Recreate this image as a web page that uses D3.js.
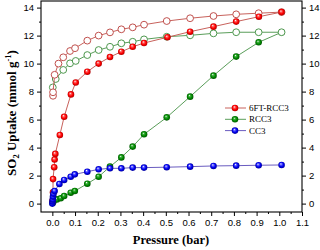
<!DOCTYPE html>
<html>
<head>
<meta charset="utf-8">
<script src="https://cdn.jsdelivr.net/npm/d3@7"></script>
<style>
  html, body { margin: 0; padding: 0; background: #fff; }
  svg { display: block; }
</style>
</head>
<body>
<div id="chart"></div>
<script>
// 6FT-RCC3 adsorption (filled) / desorption (open)
const ftAdsP = [0.001, 0.003, 0.003, 0.008, 0.01, 0.013, 0.033, 0.052, 0.082, 0.103, 0.154, 0.204, 0.254, 0.304, 0.354, 0.404, 0.507, 0.607, 0.71, 0.81, 0.91, 1.01];
const ftAdsU = [0.2, 0.8, 1.75, 2.6, 3.15, 3.55, 4.9, 6.2, 7.8, 8.65, 9.42, 10.0, 10.47, 10.85, 11.2, 11.47, 11.88, 12.28, 12.64, 13.0, 13.35, 13.68];
const ftDesP = [0.003, 0.003, 0.01, 0.027, 0.048, 0.078, 0.1, 0.154, 0.204, 0.254, 0.304, 0.354, 0.404, 0.504, 0.607, 0.71, 0.81, 0.909, 1.01];
const ftDesU = [7.7, 7.95, 9.2, 10.0, 10.45, 10.9, 11.1, 11.64, 12.0, 12.23, 12.45, 12.59, 12.78, 13.04, 13.24, 13.4, 13.52, 13.6, 13.68];

// RCC3
const rccAdsP = [0.001, 0.005, 0.02, 0.037, 0.052, 0.081, 0.099, 0.154, 0.204, 0.254, 0.304, 0.354, 0.404, 0.504, 0.607, 0.71, 0.81, 0.909, 1.01];
const rccAdsU = [0.05, 0.15, 0.3, 0.38, 0.54, 0.78, 0.9, 1.42, 1.92, 2.64, 3.3, 4.07, 4.95, 6.16, 7.64, 9.14, 10.5, 11.52, 12.24];
const rccDesP = [0.002, 0.015, 0.048, 0.078, 0.103, 0.154, 0.204, 0.254, 0.304, 0.354, 0.404, 0.504, 0.607, 0.71, 0.81, 0.909, 1.01];
const rccDesU = [8.3, 8.9, 9.55, 10.02, 10.19, 10.61, 10.97, 11.2, 11.45, 11.56, 11.73, 11.92, 12.02, 12.16, 12.24, 12.24, 12.24];

// CC3
const cc3P = [0.0, 0.001, 0.002, 0.003, 0.005, 0.01, 0.031, 0.052, 0.081, 0.099, 0.154, 0.204, 0.254, 0.304, 0.354, 0.404, 0.504, 0.607, 0.71, 0.81, 0.909, 1.01];
const cc3U = [0.0, 0.15, 0.3, 0.5, 0.7, 0.9, 1.4, 1.69, 1.92, 2.09, 2.28, 2.45, 2.52, 2.52, 2.57, 2.57, 2.6, 2.64, 2.69, 2.71, 2.74, 2.76];

const xTicks = [0.0, 0.1, 0.2, 0.3, 0.4, 0.5, 0.6, 0.7, 0.8, 0.9, 1.0, 1.1];
const yTicks = [0, 2, 4, 6, 8, 10, 12, 14];
const legendNames = ['6FT-RCC3', 'RCC3', 'CC3'];

const width = 320, height = 250;
const mLeft = 41, mRight = 302, mTop = 1, mBottom = 212;

const svg = d3.select('#chart').append('svg')
  .attr('width', width)
  .attr('height', height);

const x = d3.scaleLinear().domain([-0.05, 1.1]).range([mLeft, mRight]);
const y = d3.scaleLinear().domain([-0.6, 14.4]).range([mBottom, mTop + 1]);

// shaded ball gradients
const defs = svg.append('defs');
function ball(id, light, mid, dark) {
  const g = defs.append('radialGradient').attr('id', id)
    .attr('cx', '0.5').attr('cy', '0.5').attr('r', '0.55')
    .attr('fx', '0.38').attr('fy', '0.32');
  g.append('stop').attr('offset', '0%').attr('stop-color', '#ffffff');
  g.append('stop').attr('offset', '25%').attr('stop-color', light);
  g.append('stop').attr('offset', '60%').attr('stop-color', mid);
  g.append('stop').attr('offset', '100%').attr('stop-color', dark);
}
ball('ballRed', '#ff6060', '#ff0000', '#a00000');
ball('ballGreen', '#40b040', '#008a00', '#004d00');
ball('ballBlue', '#6060ff', '#0000f0', '#00008a');

const series = [
  { p: rccAdsP, u: rccAdsU, line: '#5a9e5a', fill: 'url(#ballGreen)', open: false },
  { p: rccDesP, u: rccDesU, line: '#5a9e5a', stroke: '#4e984e', open: true },
  { p: ftDesP, u: ftDesU, line: '#c8625c', stroke: '#c0504d', open: true },
  { p: ftAdsP, u: ftAdsU, line: '#c8625c', fill: 'url(#ballRed)', open: false },
  { p: cc3P, u: cc3U, line: '#6a5cc0', fill: 'url(#ballBlue)', open: false }
];

const line = d3.line().x(d => x(d[0])).y(d => y(d[1]));

series.forEach(s => {
  const pts = s.p.map((v, i) => [v, s.u[i]]);
  svg.append('path')
    .attr('d', line(pts))
    .attr('fill', 'none')
    .attr('stroke', s.line)
    .attr('stroke-width', 1);
  svg.append('g').selectAll('circle')
    .data(pts)
    .join('circle')
    .attr('cx', d => x(d[0]))
    .attr('cy', d => y(d[1]))
    .attr('r', s.open ? 3.4 : 3.3)
    .attr('fill', s.open ? '#fff' : s.fill)
    .attr('stroke', s.open ? s.stroke : 'none')
    .attr('stroke-width', s.open ? 1 : 0);
});

// frame
svg.append('rect')
  .attr('x', mLeft).attr('y', mTop)
  .attr('width', mRight - mLeft).attr('height', mBottom - mTop)
  .attr('fill', 'none').attr('stroke', '#000').attr('stroke-width', 1.1);

// ticks
const xMinor = d3.range(0.05, 1.1, 0.1);
const yMinor = d3.range(1, 14.5, 2);
const tickFont = '"Liberation Sans", Arial, sans-serif';

svg.append('g').attr('transform', `translate(0,${mBottom})`)
  .call(d3.axisBottom(x).tickValues(xTicks).tickSize(4).tickSizeOuter(0).tickPadding(3)
    .tickFormat(d3.format('.1f')));
svg.append('g').attr('transform', `translate(0,${mBottom})`)
  .call(d3.axisBottom(x).tickValues(xMinor).tickSize(2).tickFormat(''));

svg.append('g').attr('transform', `translate(${mLeft},0)`)
  .call(d3.axisLeft(y).tickValues(yTicks).tickSize(4).tickSizeOuter(0).tickPadding(3));
svg.append('g').attr('transform', `translate(${mLeft},0)`)
  .call(d3.axisLeft(y).tickValues(yMinor).tickSize(2).tickFormat(''));

svg.append('g').attr('transform', `translate(${mRight},0)`)
  .call(d3.axisRight(y).tickValues(yTicks).tickSize(4).tickSizeOuter(0).tickPadding(3));
svg.append('g').attr('transform', `translate(${mRight},0)`)
  .call(d3.axisRight(y).tickValues(yMinor).tickSize(2).tickFormat(''));

svg.selectAll('.domain').remove();
svg.selectAll('.tick line').attr('stroke', '#000').attr('stroke-width', 1);
svg.selectAll('.tick text')
  .attr('font-family', tickFont)
  .attr('font-size', 9.5)
  .attr('fill', '#000');

// axis titles
svg.append('text')
  .attr('x', 171).attr('y', 244)
  .attr('text-anchor', 'middle')
  .attr('font-family', '"Liberation Serif", "Times New Roman", serif')
  .attr('font-weight', 'bold')
  .attr('font-size', 12.5)
  .text('Pressure (bar)');

const yt = svg.append('text')
  .attr('transform', 'translate(16,113) rotate(-90)')
  .attr('text-anchor', 'middle')
  .attr('font-family', '"Liberation Serif", "Times New Roman", serif')
  .attr('font-weight', 'bold')
  .attr('font-size', 13);
yt.append('tspan').text('SO');
yt.append('tspan').attr('font-size', 8.5).attr('dy', 3).text('2');
yt.append('tspan').attr('dy', -3).text(' Uptake (mmol g');
yt.append('tspan').attr('font-size', 8.5).attr('dy', -5).text('-1');
yt.append('tspan').attr('dy', 5).text(')');

// legend
const legendLine = ['#c8625c', '#5a9e5a', '#6a5cc0'];
const legendFill = ['url(#ballRed)', 'url(#ballGreen)', 'url(#ballBlue)'];
const lg = svg.append('g')
  .selectAll('g')
  .data(legendNames)
  .join('g')
  .attr('transform', (d, i) => `translate(225,${108 + i * 11.3})`);
lg.append('line')
  .attr('x1', 0).attr('x2', 21).attr('y1', 0).attr('y2', 0)
  .attr('stroke', (d, i) => legendLine[i]).attr('stroke-width', 1);
lg.append('circle')
  .attr('cx', 10).attr('cy', 0).attr('r', 3.3)
  .attr('fill', (d, i) => legendFill[i]);
lg.append('text')
  .attr('x', 24).attr('y', 3)
  .attr('font-family', '"Liberation Serif", "Times New Roman", serif')
  .attr('font-size', 9)
  .attr('fill', '#000')
  .text(d => d);
</script>
</body>
</html>
